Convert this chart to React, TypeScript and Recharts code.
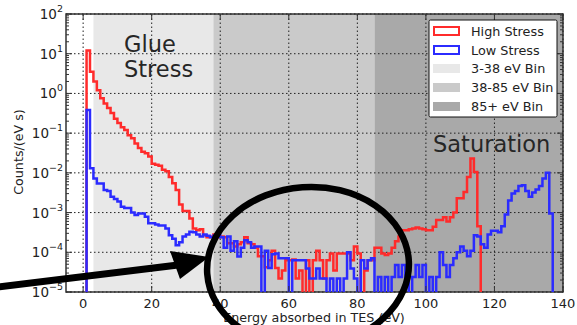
import React from 'react';
import { ComposedChart, Line, XAxis, YAxis, ReferenceArea, ReferenceLine } from 'recharts';

// histogram bins are 1 eV wide, index = lower bin edge (eV)
const BIN_WIDTH = 1;
const FLOOR = 1e-7; // empty bins sit below the axis on the log scale

const highStress = [
  0, 12, 3.5, 2.0, 1.2, 0.76, 0.56, 0.43, 0.32, 0.23,
  0.18, 0.14, 0.12, 0.089, 0.074, 0.055, 0.042, 0.034, 0.031, 0.026,
  0.017, 0.016, 0.015, 0.012, 0.011, 0.0079, 0.0055, 0.0037, 0.0016, 0.0011,
  0.0011, 7.1e-4, 4.0e-4, 3.6e-4, 3.8e-4, 2.7e-4, 2.4e-4, 2.5e-4, 2.8e-4, 2.4e-4,
  2.5e-4, 2.4e-4, 1.7e-4, 1.7e-4, 1.4e-4, 1.6e-4, 1.8e-4, 2.4e-4, 1.7e-4, 1.6e-4,
  1.3e-4, 7.9e-5, 7.9e-5, 4.2e-5, 6.3e-5, 1.1e-4, 4.0e-5, 2.2e-5, 3.5e-5, 6.3e-5,
  6.3e-5, 6.6e-5, 2.2e-5, 3.5e-5, 0, 6.3e-5, 0, 6.3e-5, 1.1e-4, 6.3e-5,
  2.2e-5, 6.3e-5, 9.3e-5, 3.5e-5, 9.3e-5, 9.3e-5, 9.3e-5, 9.3e-5, 6.3e-5, 1.4e-4,
  9.3e-5, 0, 3.5e-5, 6.3e-5, 6.3e-5, 1.3e-4, 1.3e-4, 9.3e-5, 8.5e-5, 9.3e-5,
  1.3e-4, 1.9e-4, 2.5e-4, 3.6e-4, 3.6e-4, 3.8e-4, 4.0e-4, 4.2e-4, 4.0e-4, 3.8e-4,
  3.6e-4, 3.6e-4, 4.4e-4, 6.5e-4, 6.5e-4, 7.6e-4, 6.0e-4, 7.6e-4, 1.0e-3, 2.3e-3,
  2.3e-3, 3.3e-3, 7.9e-3, 0.023, 0.0105, 4.5e-4, 0, 0, 0, 0,
  0, 0, 0, 0, 0, 0, 0, 0, 0, 0,
  0, 0, 0, 0, 0, 0, 0, 0, 0, 0,
];

const lowStress = [
  0, 0.38, 0.013, 0.0072, 0.0054, 0.0054, 0.0037, 0.0035, 0.0025, 0.0022,
  0.0019, 0.0014, 0.0013, 0.0013, 0.0010, 8.7e-4, 9.5e-4, 9.5e-4, 7.9e-4, 5.4e-4,
  5.4e-4, 5.0e-4, 4.7e-4, 4.7e-4, 4.0e-4, 2.7e-4, 2.2e-4, 1.5e-4, 1.8e-4, 2.5e-4,
  2.8e-4, 3.3e-4, 3.2e-4, 2.8e-4, 2.5e-4, 2.8e-4, 2.6e-4, 2.4e-4, 2.6e-4, 2.7e-4,
  2.4e-4, 1.3e-4, 2.5e-4, 1.1e-4, 1.9e-4, 7.8e-5, 1.3e-4, 2.0e-4, 1.8e-4, 1.3e-4,
  1.4e-4, 1.4e-4, 0, 1.1e-4, 4.0e-5, 8.9e-5, 9.3e-5, 7.1e-5, 7.1e-5, 7.1e-5,
  0, 6.3e-5, 6.3e-5, 6.3e-5, 6.3e-5, 3.9e-5, 2.2e-5, 2.2e-5, 3.9e-5, 2.2e-5,
  2.2e-5, 0, 2.2e-5, 0, 2.2e-5, 0, 2.2e-5, 1.0e-4, 3.9e-5, 2.2e-5,
  0, 6.3e-5, 3.9e-5, 6.3e-5, 7.1e-5, 0, 2.4e-5, 0, 2.4e-5, 0,
  2.4e-5, 4.8e-5, 2.4e-5, 4.8e-5, 2.4e-5, 0, 2.4e-5, 4.8e-5, 2.4e-5, 4.8e-5,
  0, 2.4e-5, 0, 2.4e-5, 1.0e-4, 4.8e-5, 2.4e-5, 4.8e-5, 7.1e-5, 1.0e-4,
  1.4e-4, 1.1e-4, 7.9e-5, 1.1e-4, 2.7e-4, 2.5e-4, 1.6e-4, 1.3e-4, 2.8e-4, 3.5e-4,
  3.5e-4, 3.2e-4, 4.5e-4, 8.9e-4, 2.0e-3, 3.0e-3, 3.5e-3, 4.7e-3, 4.9e-3, 3.5e-3,
  2.5e-3, 3.2e-3, 3.8e-3, 4.7e-3, 7.2e-3, 1.0e-2, 9.5e-4, 0, 0, 0,
];

const bands = [
  { label: '3-38 eV Bin', from: 3, to: 38, color: '#e8e8e8' },
  { label: '38-85 eV Bin', from: 38, to: 85, color: '#cacaca' },
  { label: '85+ eV Bin', from: 85, to: 140, color: '#a9a9a9' },
];

const xTicks = [0, 20, 40, 60, 80, 100, 120, 140];
const yMajor = [1e-5, 1e-4, 1e-3, 1e-2, 1e-1, 1, 10, 100];
const yMinorSteps = [2, 3, 4, 5, 6, 7, 8, 9];

const X_DOMAIN = [-5, 140];
const Y_DOMAIN = [1e-5, 100];

const W = 577, H = 325;
const Y_AXIS_W = 66;
const X_AXIS_H = 33;
const M = { top: 14, right: 14, bottom: 0, left: 0 };
const PLOT_W = W - Y_AXIS_W - M.right;
const PLOT_H = H - M.top - X_AXIS_H;

const lastEdge = highStress.length * BIN_WIDTH;
const rows = highStress.map((h, i) => ({
  e: i * BIN_WIDTH,
  high: h > 0 ? h : FLOOR,
  low: lowStress[i] > 0 ? lowStress[i] : FLOOR,
}));
rows.push({ e: lastEdge, high: rows[rows.length - 1].high, low: rows[rows.length - 1].low });

const yTicks = [
  ...yMajor,
  ...yMajor.slice(0, -1).flatMap((d) => yMinorSteps.map((m) => m * d)),
];

const AX = '#333';
const TXT = '#222';

function XTick({ x, y, payload }: any) {
  return (
    <g>
      <line x1={x} x2={x} y1={y} y2={y - 6} stroke={AX} strokeWidth={1} />
      <line x1={x} x2={x} y1={y - PLOT_H} y2={y - PLOT_H + 6} stroke={AX} strokeWidth={1} />
      <text x={x} y={y + 16} textAnchor="middle" fontSize={13} fill={TXT}>{payload.value}</text>
    </g>
  );
}

function YTick({ x, y, payload }: any) {
  const v = payload.value;
  const lg = Math.log10(v);
  const exp = Math.round(lg);
  const major = Math.abs(lg - exp) < 1e-6;
  const len = major ? 6 : 3;
  return (
    <g>
      <line x1={x} x2={x + len} y1={y} y2={y} stroke={AX} strokeWidth={1} />
      <line x1={x + PLOT_W - len} x2={x + PLOT_W} y1={y} y2={y} stroke={AX} strokeWidth={1} />
      {major && (
        <text x={x - 3} y={y + 5} textAnchor="end" fontSize={13.5} fill={TXT}>
          10<tspan fontSize={9.5} dy={-7}>{exp < 0 ? '\u2212' + -exp : String(exp)}</tspan>
        </text>
      )}
    </g>
  );
}

function Overlay() {
  const lx = 429, ly = 20;
  return (
    <svg width={W} height={H} style={{ position: 'absolute', left: 0, top: 0, pointerEvents: 'none' }}>
      {/* axis titles */}
      <text x={23} y={152} transform="rotate(-90 23 152)" textAnchor="middle" fontSize={12.7} fill={TXT}>
        Counts/(eV s)
      </text>
      <text x={314} y={322} textAnchor="middle" fontSize={12.7} fill={TXT}>
        Energy absorbed in TES (eV)
      </text>

      {/* annotations */}
      <text x={124} y={52} fontSize={22.5} fill="#262626">Glue</text>
      <text x={124} y={77} fontSize={22.5} fill="#262626">Stress</text>
      <text x={433} y={152} fontSize={22.5} fill="#262626">Saturation</text>

      {/* legend */}
      <rect x={lx} y={ly} width={128} height={97} fill="#fff" stroke="#111" strokeWidth={1} rx={1.5} />
      <rect x={lx + 5} y={ly + 7} width={25} height={8} fill="#fff" stroke="#ff2b2b" strokeWidth={2} />
      <text x={lx + 42} y={ly + 16} fontSize={12.8} fill={TXT}>High Stress</text>
      <rect x={lx + 5} y={ly + 26} width={25} height={8} fill="#fff" stroke="#2b2bff" strokeWidth={2} />
      <text x={lx + 42} y={ly + 35} fontSize={12.8} fill={TXT}>Low Stress</text>
      {bands.map((b, i) => (
        <g key={b.label}>
          <rect x={lx + 4} y={ly + 44 + i * 19} width={27} height={9} fill={b.color} />
          <text x={lx + 42} y={ly + 53 + i * 19} fontSize={12.8} fill={TXT}>{b.label}</text>
        </g>
      ))}

      {/* hand-drawn highlight */}
      <ellipse cx={308} cy={267} rx={101} ry={80} fill="none" stroke="#000" strokeWidth={6.5} transform="rotate(-4 308 267)" />
      <line x1={-10} y1={288} x2={178} y2={265} stroke="#000" strokeWidth={7} />
      <polygon points="170,251 180,279 209,257" fill="#000" />
    </svg>
  );
}

export default function App() {
  return (
    <div style={{ position: 'absolute', left: 0, top: 0, width: W, height: H, background: '#fff', fontFamily: '"DejaVu Sans", sans-serif' }}>
      <ComposedChart width={W} height={H} data={rows} margin={M}>
        {bands.map((b) => (
          <ReferenceArea key={b.label} x1={b.from} x2={b.to} y1={Y_DOMAIN[0]} y2={Y_DOMAIN[1]} fill={b.color} fillOpacity={1} stroke="none" ifOverflow="visible" />
        ))}
        {xTicks.map((t) => (
          <ReferenceLine key={'gx' + t} x={t} stroke="#222" strokeWidth={1} strokeDasharray="1.5 2.5" />
        ))}
        {yMajor.map((t) => (
          <ReferenceLine key={'gy' + t} y={t} stroke="#222" strokeWidth={1} strokeDasharray="1.5 2.5" />
        ))}
        <XAxis
          dataKey="e"
          type="number"
          domain={X_DOMAIN}
          allowDataOverflow
          ticks={xTicks}
          interval={0}
          height={X_AXIS_H}
          tickSize={0}
          tickMargin={0}
          axisLine={false}
          tickLine={false}
          tick={(p: any) => <XTick {...p} />}
        />
        <YAxis
          type="number"
          scale="log"
          domain={Y_DOMAIN}
          allowDataOverflow
          ticks={yTicks}
          interval={0}
          width={Y_AXIS_W}
          tickSize={0}
          tickMargin={0}
          axisLine={false}
          tickLine={false}
          tick={(p: any) => <YTick {...p} />}
        />
        <Line type="stepAfter" dataKey="high" name="High Stress" stroke="#ff2b2b" strokeWidth={2.5} dot={false} activeDot={false} isAnimationActive={false} />
        <Line type="stepAfter" dataKey="low" name="Low Stress" stroke="#2b2bff" strokeWidth={2.5} dot={false} activeDot={false} isAnimationActive={false} />
        <ReferenceArea x1={X_DOMAIN[0]} x2={X_DOMAIN[1]} y1={Y_DOMAIN[0]} y2={Y_DOMAIN[1]} fill="none" stroke={AX} strokeWidth={1.5} ifOverflow="visible" />
      </ComposedChart>
      <Overlay />
    </div>
  );
}
